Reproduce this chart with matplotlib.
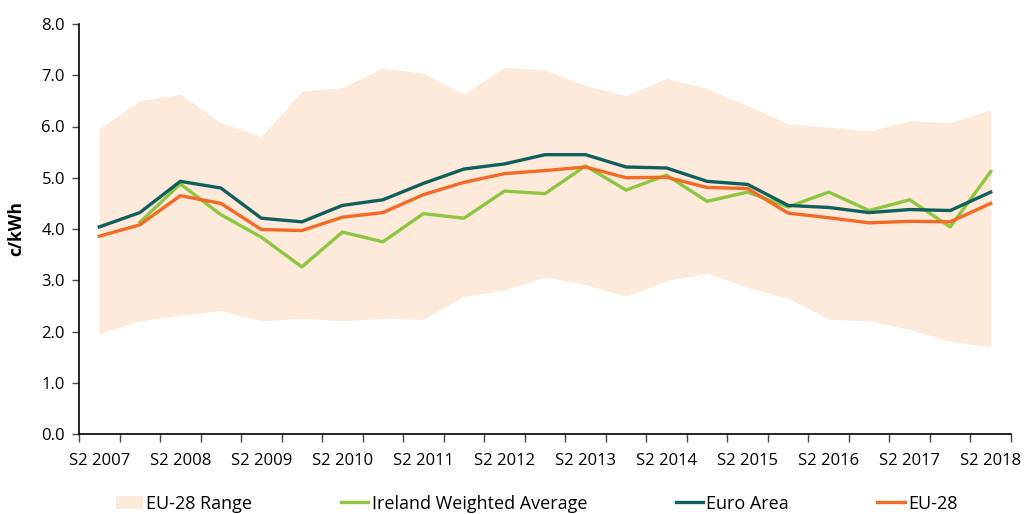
import numpy as np
import matplotlib
matplotlib.use("Agg")
import matplotlib.pyplot as plt
from matplotlib.patches import Patch
from matplotlib.lines import Line2D

periods = ["S2 2007", "S1 2008", "S2 2008", "S1 2009", "S2 2009", "S1 2010", "S2 2010",
           "S1 2011", "S2 2011", "S1 2012", "S2 2012", "S1 2013", "S2 2013", "S1 2014",
           "S2 2014", "S1 2015", "S2 2015", "S1 2016", "S2 2016", "S1 2017", "S2 2017",
           "S1 2018", "S2 2018"]

range_max = [5.96, 6.50, 6.63, 6.07, 5.80, 6.69, 6.76, 7.14, 7.04, 6.63, 7.16, 7.10,
             6.80, 6.60, 6.94, 6.74, 6.41, 6.05, 5.99, 5.91, 6.11, 6.07, 6.33]
range_min = [1.96, 2.21, 2.32, 2.41, 2.21, 2.26, 2.21, 2.26, 2.24, 2.69, 2.81, 3.06,
             2.92, 2.69, 2.99, 3.14, 2.86, 2.65, 2.24, 2.21, 2.04, 1.81, 1.70]
ireland = [np.nan, 4.13, 4.88, 4.28, 3.84, 3.26, 3.94, 3.75, 4.30, 4.21, 4.74, 4.69,
           5.23, 4.76, 5.05, 4.54, 4.72, 4.43, 4.72, 4.36, 4.57, 4.04, 5.12]
euro_area = [4.04, 4.32, 4.93, 4.80, 4.21, 4.14, 4.46, 4.57, 4.89, 5.17, 5.27, 5.45,
             5.45, 5.21, 5.19, 4.93, 4.87, 4.46, 4.42, 4.32, 4.38, 4.36, 4.72]
eu28 = [3.86, 4.08, 4.65, 4.50, 3.99, 3.97, 4.23, 4.32, 4.67, 4.91, 5.08, 5.14,
        5.21, 5.00, 5.01, 4.81, 4.79, 4.31, 4.22, 4.12, 4.15, 4.14, 4.50]

c_range = "#FDEADB"
c_ire = "#8DC63F"
c_euro = "#0F5F5C"
c_eu = "#F26A25"

plt.rcParams["font.family"] = ["Open Sans", "DejaVu Sans"]

fig = plt.figure(figsize=(10.26, 5.14), dpi=100)
ax = fig.add_axes([79/1026, 1-434/514, (1011-79)/1026, (434-24)/514])

x = np.arange(len(periods))
ax.fill_between(x, range_min, range_max, color=c_range, linewidth=0, zorder=1)
ax.plot(x, ireland, color=c_ire, lw=2.4, zorder=3)
ax.plot(x, euro_area, color=c_euro, lw=2.4, zorder=4)
ax.plot(x, eu28, color=c_eu, lw=2.4, zorder=5)

ax.set_xlim(-0.5, len(periods) - 0.5)
ax.set_ylim(0, 8)
ax.set_yticks(np.arange(0, 9, 1))
ax.set_yticklabels([f"{v:.1f}" for v in np.arange(0, 9, 1)], fontsize=12)
ax.set_xticks(np.arange(-0.5, len(periods), 1))
ax.set_xticklabels([])
ax.set_xticks(x[::2], minor=True)
ax.set_xticklabels([periods[i] for i in x[::2]], minor=True, fontsize=12)
ax.tick_params(axis="x", which="major", direction="out", length=6, width=1, color="#444444")
ax.tick_params(axis="x", which="minor", length=0, pad=14)
ax.tick_params(axis="y", direction="out", length=5, width=1, color="#444444", pad=5)

for s in ["top", "right"]:
    ax.spines[s].set_visible(False)
ax.spines["left"].set_linewidth(1.2)
ax.spines["bottom"].set_linewidth(1.2)

ax.set_ylabel("c/kWh", fontsize=12.5, fontweight="bold", labelpad=12)

handles = [Patch(facecolor=c_range, edgecolor="none"),
           Line2D([0], [0], color=c_ire, lw=2.4),
           Line2D([0], [0], color=c_euro, lw=2.4),
           Line2D([0], [0], color=c_eu, lw=2.4)]
labels = ["EU-28 Range", "Ireland Weighted Average", "Euro Area", "EU-28"]
fig.legend(handles, labels, loc="center", bbox_to_anchor=(0.523, 0.02), ncol=4,
           frameon=False, fontsize=13, columnspacing=4.9, handlelength=1.5,
           handletextpad=0.2, borderaxespad=0)

fig.savefig("out.png", dpi=100)
